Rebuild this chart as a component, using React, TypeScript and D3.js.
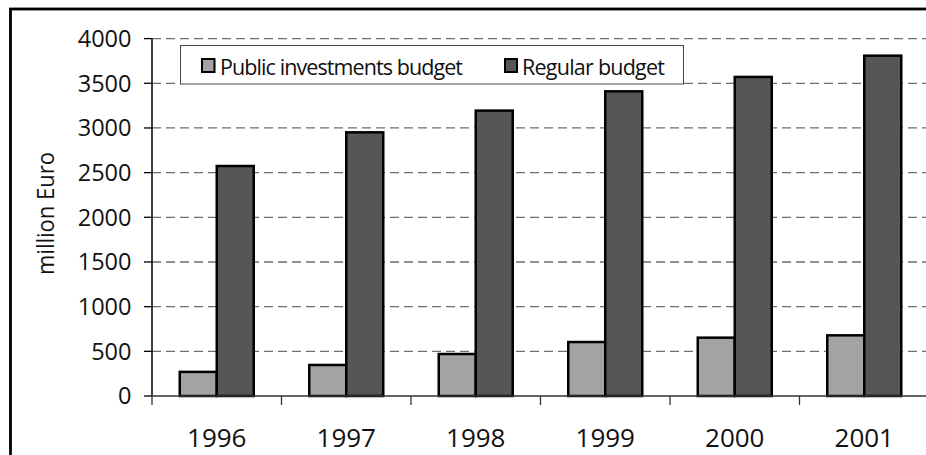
import React from "react";
import * as d3 from "d3";

// Budget figures, million Euro
const years = ["1996", "1997", "1998", "1999", "2000", "2001"];
const publicInvestments = [270, 347, 470, 604, 653, 679];
const regularBudget = [2574, 2951, 3194, 3410, 3571, 3809];
const seriesNames = ["Public investments budget", "Regular budget"];
const seriesColors = ["#a3a3a3", "#565656"];
const yTicks = [0, 500, 1000, 1500, 2000, 2500, 3000, 3500, 4000];

const W = 926;
const H = 455;
const FONT = "'Open Sans', 'DejaVu Sans', sans-serif";

export default function App() {
  const left = 152;
  const right = 929;
  const bottom = 396;
  const top = 38.6;

  const x = d3.scaleBand<string>().domain(years).range([left, right]).paddingInner(0).paddingOuter(0);
  const inner = d3
    .scaleBand<string>()
    .domain(seriesNames)
    .range([0, x.bandwidth()])
    .paddingInner(0)
    .paddingOuter(0.75);
  const y = d3.scaleLinear().domain([0, 4000]).range([bottom, top]);

  const values = [publicInvestments, regularBudget];
  const boundaries = years.map((yr) => x(yr) as number).concat([right]);

  return (
    <svg
      width={W}
      height={H}
      style={{ position: "absolute", left: 0, top: 0, background: "#fff" }}
      fontFamily={FONT}
    >
      <rect x={0} y={0} width={W} height={H} fill="#fff" />
      {/* chart frame */}
      <rect x={10.5} y={9} width={1000} height={600} fill="none" stroke="#000" strokeWidth={2.8} />

      {/* dashed gridlines */}
      {yTicks
        .filter((t) => t > 0)
        .map((t) => (
          <line
            key={"g" + t}
            x1={left}
            x2={right}
            y1={y(t)}
            y2={y(t)}
            stroke="#6e6e6e"
            strokeWidth={1.3}
            strokeDasharray="9,5"
          />
        ))}

      {/* bars */}
      {years.map((yr, i) =>
        seriesNames.map((s, k) => {
          const v = values[k][i];
          const bx = (x(yr) as number) + (inner(s) as number);
          return (
            <rect
              key={yr + s}
              x={bx}
              y={y(v)}
              width={inner.bandwidth()}
              height={bottom - y(v)}
              fill={seriesColors[k]}
              stroke="#000"
              strokeWidth={2.5}
            />
          );
        })
      )}

      {/* y axis */}
      <line x1={left} x2={left} y1={top} y2={bottom} stroke="#000" strokeWidth={1.5} />
      {yTicks.map((t) => (
        <g key={"t" + t}>
          <line x1={left - 8} x2={left} y1={y(t)} y2={y(t)} stroke="#000" strokeWidth={1.3} />
          <text
            x={131.5}
            y={y(t)}
            dy="0.36em"
            textAnchor="end"
            fontSize={23.5}
            fill="#111"
          >
            {t}
          </text>
        </g>
      ))}

      {/* x axis */}
      <line x1={left} x2={right} y1={bottom} y2={bottom} stroke="#333" strokeWidth={1.5} />
      {boundaries.map((bx, i) => (
        <line key={"xt" + i} x1={bx} x2={bx} y1={bottom} y2={bottom + 9} stroke="#333" strokeWidth={1.3} />
      ))}
      {years.map((yr) => (
        <text
          key={"xl" + yr}
          x={(x(yr) as number) + x.bandwidth() / 2}
          y={446.5}
          textAnchor="middle"
          fontSize={26}
          fill="#111"
        >
          {yr}
        </text>
      ))}

      {/* y axis title */}
      <text
        transform={`translate(54, 213.5) rotate(-90)`}
        textAnchor="middle"
        fontSize={23}
        fill="#111"
        textLength={123}
        lengthAdjust="spacingAndGlyphs"
      >
        million Euro
      </text>

      {/* legend */}
      <rect x={180.5} y={45.5} width={503} height={38.5} fill="#fff" stroke="#444" strokeWidth={1} />
      <rect x={202} y={59} width={12.5} height={13} fill={seriesColors[0]} stroke="#000" strokeWidth={2} />
      <text x={220} y={74.5} fontSize={21.5} fill="#111" textLength={243} lengthAdjust="spacing">
        {seriesNames[0]}
      </text>
      <rect x={505} y={59} width={12} height={13} fill={seriesColors[1]} stroke="#000" strokeWidth={2} />
      <text x={522} y={74.5} fontSize={21.5} fill="#111" textLength={143} lengthAdjust="spacing">
        {seriesNames[1]}
      </text>
    </svg>
  );
}
